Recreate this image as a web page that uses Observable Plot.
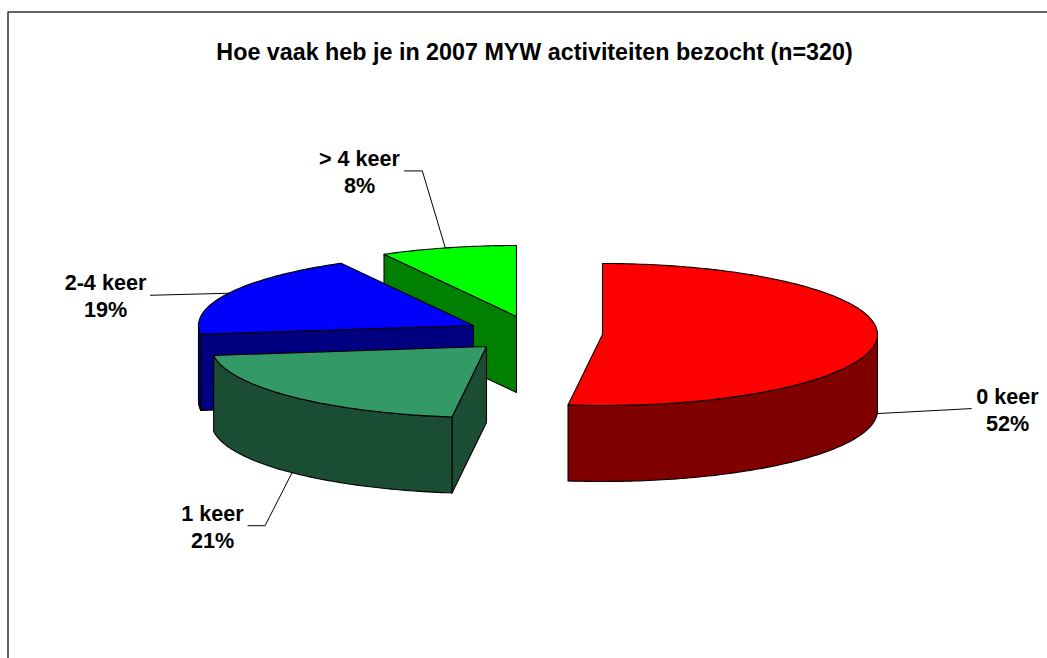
<!DOCTYPE html>
<html>
<head>
<meta charset="utf-8">
<script src="https://cdn.jsdelivr.net/npm/d3@7"></script>
<script src="https://cdn.jsdelivr.net/npm/@observablehq/plot@0.6"></script>
<style>html,body{margin:0;padding:0;background:#fff;overflow:hidden}svg{display:block}</style>
</head>
<body>
<div id="chart"></div>
<script>
const titleText = "Hoe vaak heb je in 2007 MYW activiteiten bezocht (n=320)";
const categories = ["0 keer", "1 keer", "2-4 keer", "> 4 keer"];
const shares = [52, 21, 19, 8];
const topColors = ["#ff0000", "#339966", "#0000ff", "#00ff00"];
const wallColors = ["#800000", "#1a4d33", "#000080", "#008000"];

// layout of the exploded 3D pie
const W = 1047, H = 658;
const rx = 275, ry = 71, depth = 76;
const apexes = [[602, 334], [486, 346], [473, 325], [516, 316]];
const labelAnchors = [[1007, 408.5], [212, 525.5], [105, 294], [359, 170]];
const leaderOffsets = [
  [[0, 0], [94, -5]],
  [[0, 0], [-27, 53], [-44, 53]],
  [[0, 0], [-78, 2]],
  [[0, 0], [-23, -77], [-41, -77]]
];
const leaderAngles = [92.5, 225, 297, 345];
const leaderFoot = [1, 1, 0, 0]; // 1: on the bottom rim, 0: on the top rim
const font = "'Liberation Sans', Arial, sans-serif";

const rad = (d) => (d * Math.PI) / 180;
const rim = (c, deg, dy = 0) => ({x: c[0] + rx * Math.sin(rad(deg)), y: c[1] + dy - ry * Math.cos(rad(deg))});
const arc = (c, a0, a1, dy = 0) => {
  const n = Math.max(2, Math.ceil(Math.abs(a1 - a0)));
  return d3.range(n + 1).map((i) => rim(c, a0 + ((a1 - a0) * i) / n, dy));
};
const close = (pts) => [...pts, pts[0]];

let cum = 0;
const slices = categories.map((name, i) => {
  const a0 = (cum / 100) * 360;
  cum += shares[i];
  const a1 = (cum / 100) * 360;
  return {name, share: shares[i], a0, a1, c: apexes[i], top: topColors[i], wall: wallColors[i], i};
});

const polygon = (pts, fill) =>
  Plot.line(close(pts), {x: "x", y: "y", fill, stroke: "#000", strokeWidth: 1.1, strokeLinejoin: "round", curve: "linear"});

function sliceMarks(s) {
  const apex = {x: s.c[0], y: s.c[1]};
  const marks = [];
  if (s.a0 > 180) {
    const p = rim(s.c, s.a0);
    marks.push(polygon([apex, p, {x: p.x, y: p.y + depth}, {x: apex.x, y: apex.y + depth}], s.wall));
  }
  const w0 = Math.max(s.a0, 90), w1 = Math.min(s.a1, 270);
  if (w1 > w0) {
    marks.push(polygon([...arc(s.c, w0, w1), ...arc(s.c, w1, w0, depth)], s.wall));
  }
  marks.push(polygon([apex, ...arc(s.c, s.a0, s.a1)], s.top));
  return marks;
}

const leaders = slices.flatMap((s, i) => {
  const p = rim(s.c, leaderAngles[i], leaderFoot[i] ? depth : 0);
  return leaderOffsets[i].map((o) => ({x: p.x + o[0], y: p.y + o[1], z: s.name}));
});

const labels = slices.map((s, i) => ({x: labelAnchors[i][0], y: labelAnchors[i][1], text: `${s.name}\n${s.share}%`}));

const paintOrder = [3, 2, 1, 0];

const chart = Plot.plot({
  width: W,
  height: H,
  margin: 0,
  style: {background: "#fff", fontFamily: font},
  x: {domain: [0, W], range: [0, W], axis: null},
  y: {domain: [0, H], range: [0, H], axis: null},
  marks: [
    Plot.line([{x: 7.5, y: H + 2}, {x: 7.5, y: 11.5}, {x: W + 2, y: 11.5}], {x: "x", y: "y", stroke: "#333", strokeWidth: 1.5, clip: false}),
    Plot.line(leaders, {x: "x", y: "y", z: "z", stroke: "#000", strokeWidth: 1}),
    ...paintOrder.flatMap((i) => sliceMarks(slices[i])),
    Plot.text([{x: 534, y: 52, text: titleText}], {x: "x", y: "y", text: "text", fontSize: 23.3, fontWeight: "bold", fill: "#000", fontFamily: font}),
    Plot.text(labels, {x: "x", y: "y", text: "text", fontSize: 21.6, fontWeight: "bold", lineHeight: 1.25, fill: "#000", fontFamily: font})
  ]
});
document.getElementById("chart").appendChild(chart);
</script>
</body>
</html>
